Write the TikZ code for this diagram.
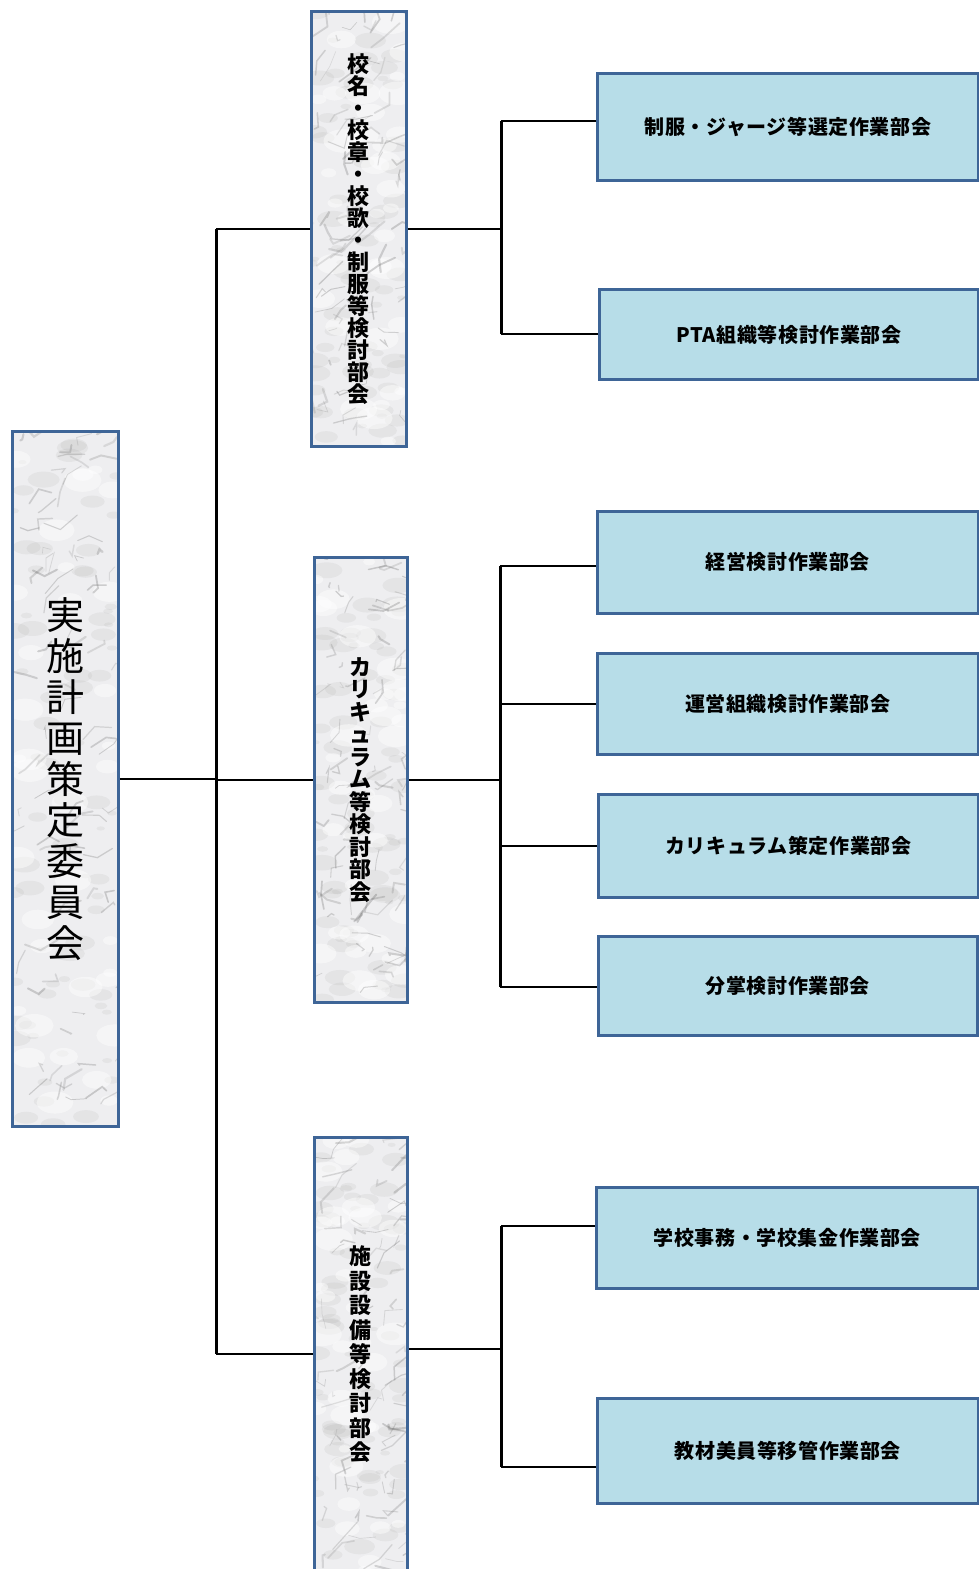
\documentclass[tikz,border=0pt]{standalone}
\usepackage{fontspec}
\newfontfamily\jp{Noto Sans CJK JP}
\newfontfamily\jpw{Noto Sans CJK JP}[LetterSpace=3]
\usetikzlibrary{calc}
\definecolor{boxblue}{HTML}{B7DDE8}
\definecolor{boxline}{HTML}{3E6597}
\definecolor{marblebase}{HTML}{EEEEF0}
\newcommand\marblefill[4]{%
  \begin{scope}
    \clip (#1,#2) rectangle (#3,#4);
    \fill[marblebase] (#1,#2) rectangle (#3,#4);
    \foreach \k in {1,...,70}{
      \pgfmathsetmacro\ax{#1+rnd*(#3-#1)}
      \pgfmathsetmacro\ay{#2+rnd*(#4-#2)}
      \pgfmathsetmacro\rr{4+rnd*12}
      \fill[black!45, opacity=0.10] (\ax,\ay) ellipse [x radius=\rr, y radius=0.5*\rr];
    }
    \foreach \k in {1,...,35}{
      \pgfmathsetmacro\ax{#1+rnd*(#3-#1)}
      \pgfmathsetmacro\ay{#2+rnd*(#4-#2)}
      \pgfmathsetmacro\rr{6+rnd*14}
      \fill[white, opacity=0.45] (\ax,\ay) ellipse [x radius=\rr, y radius=0.6*\rr];
    }
    \foreach \k in {1,...,80}{
      \pgfmathsetmacro\ax{#1+rnd*(#3-#1)}
      \pgfmathsetmacro\ay{#2+rnd*(#4-#2)}
      \pgfmathsetmacro\bx{\ax+(rnd-0.2)*22}
      \pgfmathsetmacro\by{\ay+(rnd-0.7)*22}
      \pgfmathsetmacro\cx{\bx+(rnd-0.2)*22}
      \pgfmathsetmacro\cy{\by+(rnd-0.7)*22}
      \pgfmathtruncatemacro\gr{40+rnd*30}
      \pgfmathsetmacro\lw{0.6+rnd*1.6}
      \draw[black!\gr, opacity=0.25, line width=\lw pt, line cap=round]
        (\ax,\ay) -- (\bx,\by) -- (\cx,\cy);
    }
  \end{scope}}

\begin{document}
\begin{tikzpicture}[x=1pt,y=-1pt,
  vbox/.style={draw=boxline, line width=2.8pt, anchor=north west, inner sep=0pt,
    align=center, font=\jp\bfseries\fontsize{22}{22}\selectfont},
  leaf/.style={draw=boxline, fill=boxblue, line width=2.8pt, anchor=north west,
    inner sep=0pt, font=\jpw\bfseries\fontsize{20}{24}\selectfont},
  conn/.style={black, line width=2pt},
  trunk/.style={black, line width=3pt}]
\useasboundingbox (0,0) rectangle (979,1569);
\clip (0,0) rectangle (979,1569);
\fill[white] (0,0) rectangle (979,1569);
\pgfmathsetseed{17}

% marble textures
\marblefill{11}{430}{117}{1125}
\marblefill{310}{10}{405}{445}
\marblefill{313}{556}{406}{1001}
\marblefill{313}{1136}{406}{1570}

% main and second-level boxes
\node[vbox, minimum width=106pt, minimum height=695pt,
  font=\jp\fontsize{38}{41}\selectfont] (main) at (11,430)
  {実\\施\\計\\画\\策\\定\\委\\員\\会};
\node[vbox, minimum width=95pt, minimum height=435pt] (A) at (310,10)
  {校\\名\\・\\校\\章\\・\\校\\歌\\・\\制\\服\\等\\検\\討\\部\\会};
\node[vbox, minimum width=93pt, minimum height=445pt,
  font=\jp\bfseries\fontsize{22}{22.5}\selectfont] (B) at (313,556)
  {カ\\リ\\キ\\ュ\\ラ\\ム\\等\\検\\討\\部\\会};
\node[vbox, minimum width=93pt, minimum height=434pt,
  font=\jp\bfseries\fontsize{22}{24.5}\selectfont] (C) at (313,1136)
  {施\\設\\設\\備\\等\\検\\討\\部\\会};

% leaf boxes
\node[leaf, minimum width=381pt, minimum height=107pt] (r1) at (596,72) {制服・ジャージ等選定作業部会};
\node[leaf, minimum width=379pt, minimum height=90pt] (r2) at (598,288) {PTA組織等検討作業部会};
\node[leaf, minimum width=381pt, minimum height=102pt] (r3) at (596,510) {経営検討作業部会};
\node[leaf, minimum width=381pt, minimum height=101pt] (r4) at (596,652) {運営組織検討作業部会};
\node[leaf, minimum width=380pt, minimum height=103pt] (r5) at (597,793) {カリキュラム策定作業部会};
\node[leaf, minimum width=379pt, minimum height=99pt] (r6) at (597,935) {分掌検討作業部会};
\node[leaf, minimum width=382pt, minimum height=101pt] (r7) at (595,1186) {学校事務・学校集金作業部会};
\node[leaf, minimum width=381pt, minimum height=105pt] (r8) at (596,1397) {教材美員等移管作業部会};

% junction coordinates
\coordinate (j0) at (216,777);
\coordinate (jA) at (501,228);
\coordinate (jB) at (500,779);
\coordinate (jC) at (501,1349);

% trunk
\draw[conn] (main.east) -- (main.east -| j0);
\draw[trunk] (A.west -| j0) |- (C.west -| j0);
\draw[conn] (A.west) -- (A.west -| j0);
\draw[conn] (C.west) -- (C.west -| j0);
\draw[conn] (B.west -| j0) -- (B.west);

% group A
\draw[conn] (A.east) -- (A.east -| jA);
\draw[trunk] ([yshift=5.5pt]r1.west -| jA) -- (r2.west -| jA);
\draw[conn] ([yshift=5.5pt]r1.west) -- ([yshift=5.5pt]r1.west -| jA);
\draw[conn] (r2.west) -- (r2.west -| jA);

% group B
\draw[conn] (B.east) -- (B.east -| jB);
\draw[trunk] ([yshift=-4pt]r3.west -| jB) -- ([yshift=-1.5pt]r6.west -| jB);
\draw[conn] ([yshift=-4pt]r3.west) -- ([yshift=-4pt]r3.west -| jB);
\draw[conn] (r4.west) -- (r4.west -| jB);
\draw[conn] (r5.west) -- (r5.west -| jB);
\draw[conn] ([yshift=-1.5pt]r6.west) -- ([yshift=-1.5pt]r6.west -| jB);

% group C
\draw[conn] (C.east |- jC) -- (jC);
\draw[trunk] ([yshift=12pt]r7.west -| jC) -- ([yshift=-16pt]r8.west -| jC);
\draw[conn] ([yshift=12pt]r7.west) -- ([yshift=12pt]r7.west -| jC);
\draw[conn] ([yshift=-16pt]r8.west) -- ([yshift=-16pt]r8.west -| jC);
\end{tikzpicture}
\end{document}
